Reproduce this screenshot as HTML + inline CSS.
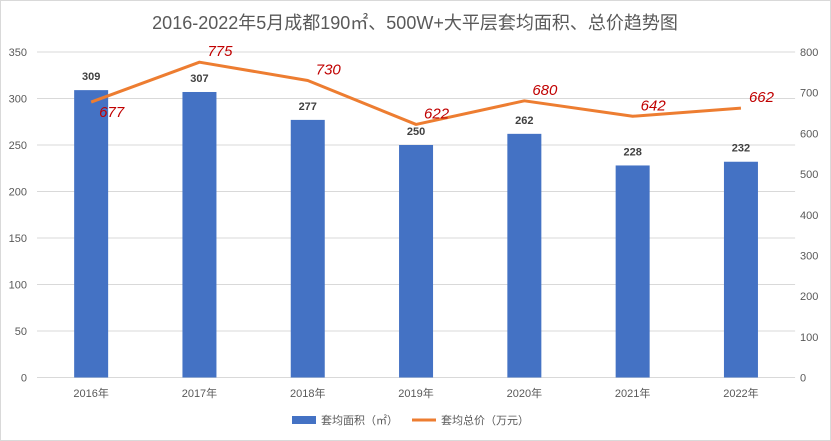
<!DOCTYPE html>
<html><head><meta charset="utf-8"><style>
body{margin:0;background:#fff}
svg{display:block;font-family:"Liberation Sans","Noto Sans CJK SC",sans-serif}
</style></head><body>
<svg id="c" width="831" height="441">
<rect x="0.5" y="0.5" width="830" height="440" fill="#fff" stroke="#d9d9d9"/>
<text x="415" y="29" text-anchor="middle" font-size="18" fill="#595959">2016-2022年5月成都190㎡、500W+大平层套均面积、总价趋势图</text>
<g id="grid"></g><g id="bars"></g><g id="line"></g><g id="labels"></g>
<g>
<rect x="292" y="416" width="24" height="8" fill="#4472c4"/>
<text x="321" y="424" font-size="11" fill="#595959">套均面积（㎡）</text>
<line x1="412" y1="420" x2="436" y2="420" stroke="#ed7d31" stroke-width="3"/>
<text x="441" y="424" font-size="11" fill="#595959">套均总价（万元）</text>
</g>
</svg>
<script>
const categories=["2016年","2017年","2018年","2019年","2020年","2021年","2022年"];
const areaValues=[309,307,277,250,262,228,232];
const priceValues=[677,775,730,622,680,642,662];
const leftTicks=[0,50,100,150,200,250,300,350];
const rightTicks=[0,100,200,300,400,500,600,700,800];
const NS="http://www.w3.org/2000/svg";
const plotTop=52,plotBottom=377.5,x0=37,step=108.3;
const yL=v=>plotBottom-v/350*(plotBottom-plotTop);
const yR=v=>plotBottom-v/800*(plotBottom-plotTop);
const xC=i=>x0+step*(i+0.5);
function mk(tag,attrs,parent,txt){const e=document.createElementNS(NS,tag);for(const k in attrs)e.setAttribute(k,attrs[k]);if(txt!==undefined)e.textContent=txt;document.getElementById(parent).appendChild(e);return e;}
leftTicks.forEach(t=>{
 const l=mk('line',{x1:x0,x2:x0+step*7,y1:yL(t),y2:yL(t),stroke:'#d9d9d9'},'grid');
 
 
 const tx=mk('text',{x:27,y:yL(t)+4,'text-anchor':'end','font-size':11,fill:'#595959'},'grid',t);
 
 
});
rightTicks.forEach(t=>{
 const tx=mk('text',{x:800,y:yR(t)+4,'font-size':11,fill:'#595959'},'grid',t);
 
 
});
categories.forEach((c,i)=>{
 const b=mk('rect',{x:xC(i)-17,y:yL(areaValues[i]),width:34,height:plotBottom-yL(areaValues[i]),fill:'#4472c4'},'bars');
 
 
 const v=mk('text',{x:xC(i),y:yL(areaValues[i])-10,'text-anchor':'middle','font-size':11,'font-weight':'bold',fill:'#404040'},'labels',areaValues[i]);
 
 
 const xl=mk('text',{x:xC(i),y:397,'text-anchor':'middle','font-size':11,fill:'#595959'},'labels',c);
 
 
 const pl=mk('text',{x:xC(i)+8,y:yR(priceValues[i])+(i==0?15:-6),'font-size':15,'font-style':'italic',fill:'#c00000'},'labels',priceValues[i]);
 
 
});
const pts=priceValues.map((v,i)=>xC(i)+','+yR(v)).join(' ');
const pl=mk('polyline',{points:pts,fill:'none',stroke:'#ed7d31','stroke-width':3,'stroke-linejoin':'round'},'line');


</script>
</body></html>
